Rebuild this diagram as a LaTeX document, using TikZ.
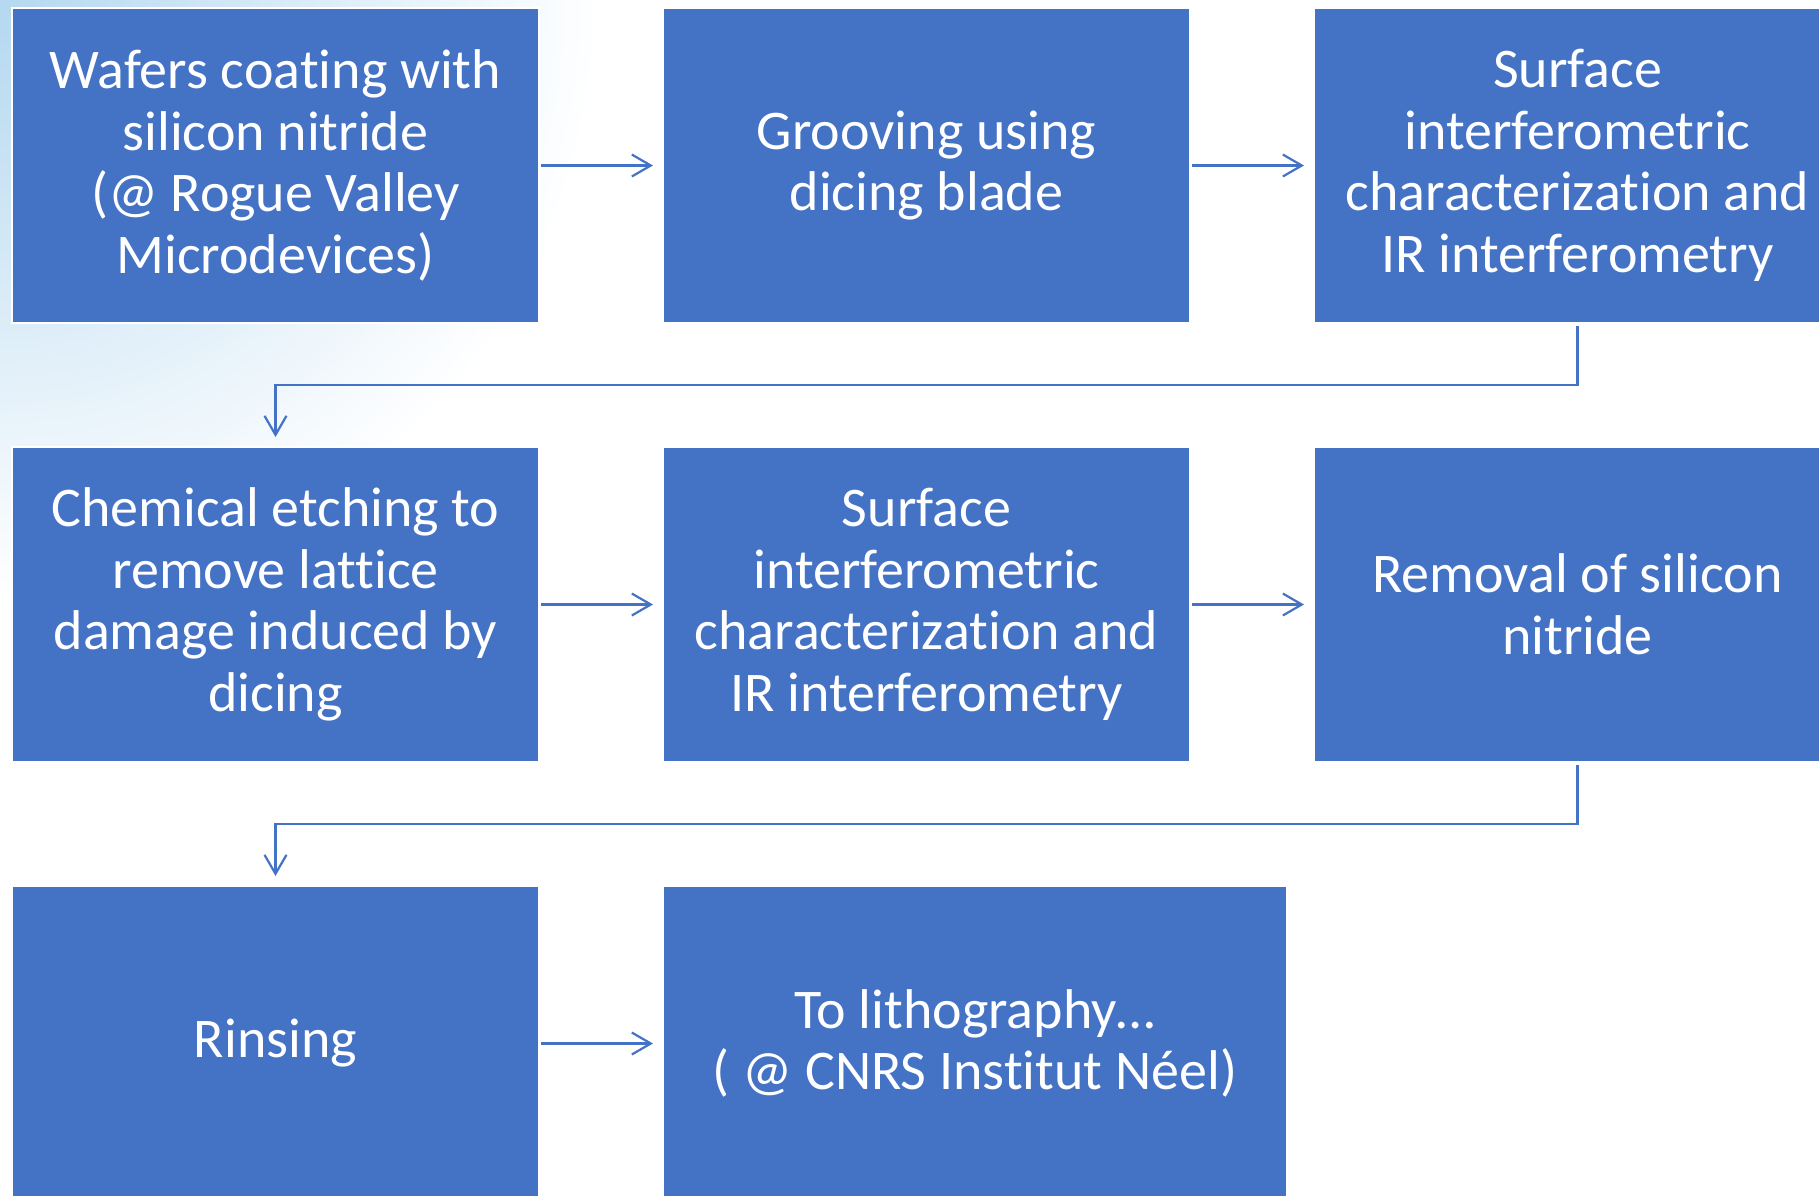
\documentclass[tikz,border=0pt]{standalone}
\usepackage{fontspec}
\setmainfont{Carlito}[Ligatures=NoCommon]
\usetikzlibrary{arrows.meta, positioning}
\definecolor{stepblue}{HTML}{4472C4}
\definecolor{skytint}{HTML}{B4D8F0}

\begin{document}
\begin{tikzpicture}[node distance=62pt and 62pt,
        stepbox/.style={rectangle, fill=stepblue, draw=white, line width=0.6pt,
            text=white, align=center, minimum width=263.5pt, minimum height=157.5pt,
            inner sep=0pt, outer sep=0pt, font=\fontsize{28}{30.8}\selectfont},
        flow/.style={-{Straight Barb[length=9.5pt,width=11pt]}, stepblue,
            line width=1.1pt, shorten >=5pt, shorten <=1pt}]
    \useasboundingbox (0,0) rectangle (909.5pt,-597.5pt);
    \clip (0,0) rectangle (909.5pt,-597.5pt);
    % background tint
    \shade [inner color=skytint, outer color=white] (0,0) circle (300pt);
    \node (s1) [stepbox] at (137.75pt,-82.75pt) {Wafers coating with\\silicon nitride\\(@ Rogue Valley\\Microdevices)};
    \node (s2) [stepbox, right = of s1] {Grooving using\\dicing blade};
    \node (s3) [stepbox, right = of s2] {Surface\\interferometric\\characterization and\\IR interferometry};
    \node (s4) [stepbox, below = of s1] {Chemical etching to\\remove lattice\\damage induced by\\dicing};
    \node (s5) [stepbox, right = of s4] {Surface\\interferometric\\characterization and\\IR interferometry};
    \node (s6) [stepbox, right = of s5] {Removal of silicon\\nitride};
    \node (s7) [stepbox, below = of s4] {Rinsing};
    \node (s8) [stepbox, right = of s7, minimum width=312pt] {To lithography…\\( @ CNRS Institut Néel)};
    \draw [flow] (s1) -- (s2);
    \draw [flow] (s2) -- (s3);
    \draw [flow, shorten <=1.5pt] (s3.south) -- ++(0,-31pt) -| (s4.north);
    \draw [flow] (s4) -- (s5);
    \draw [flow] (s5) -- (s6);
    \draw [flow, shorten <=1.5pt] (s6.south) -- ++(0,-31pt) -| (s7.north);
    \draw [flow] (s7) -- (s8);
\end{tikzpicture}
\end{document}
